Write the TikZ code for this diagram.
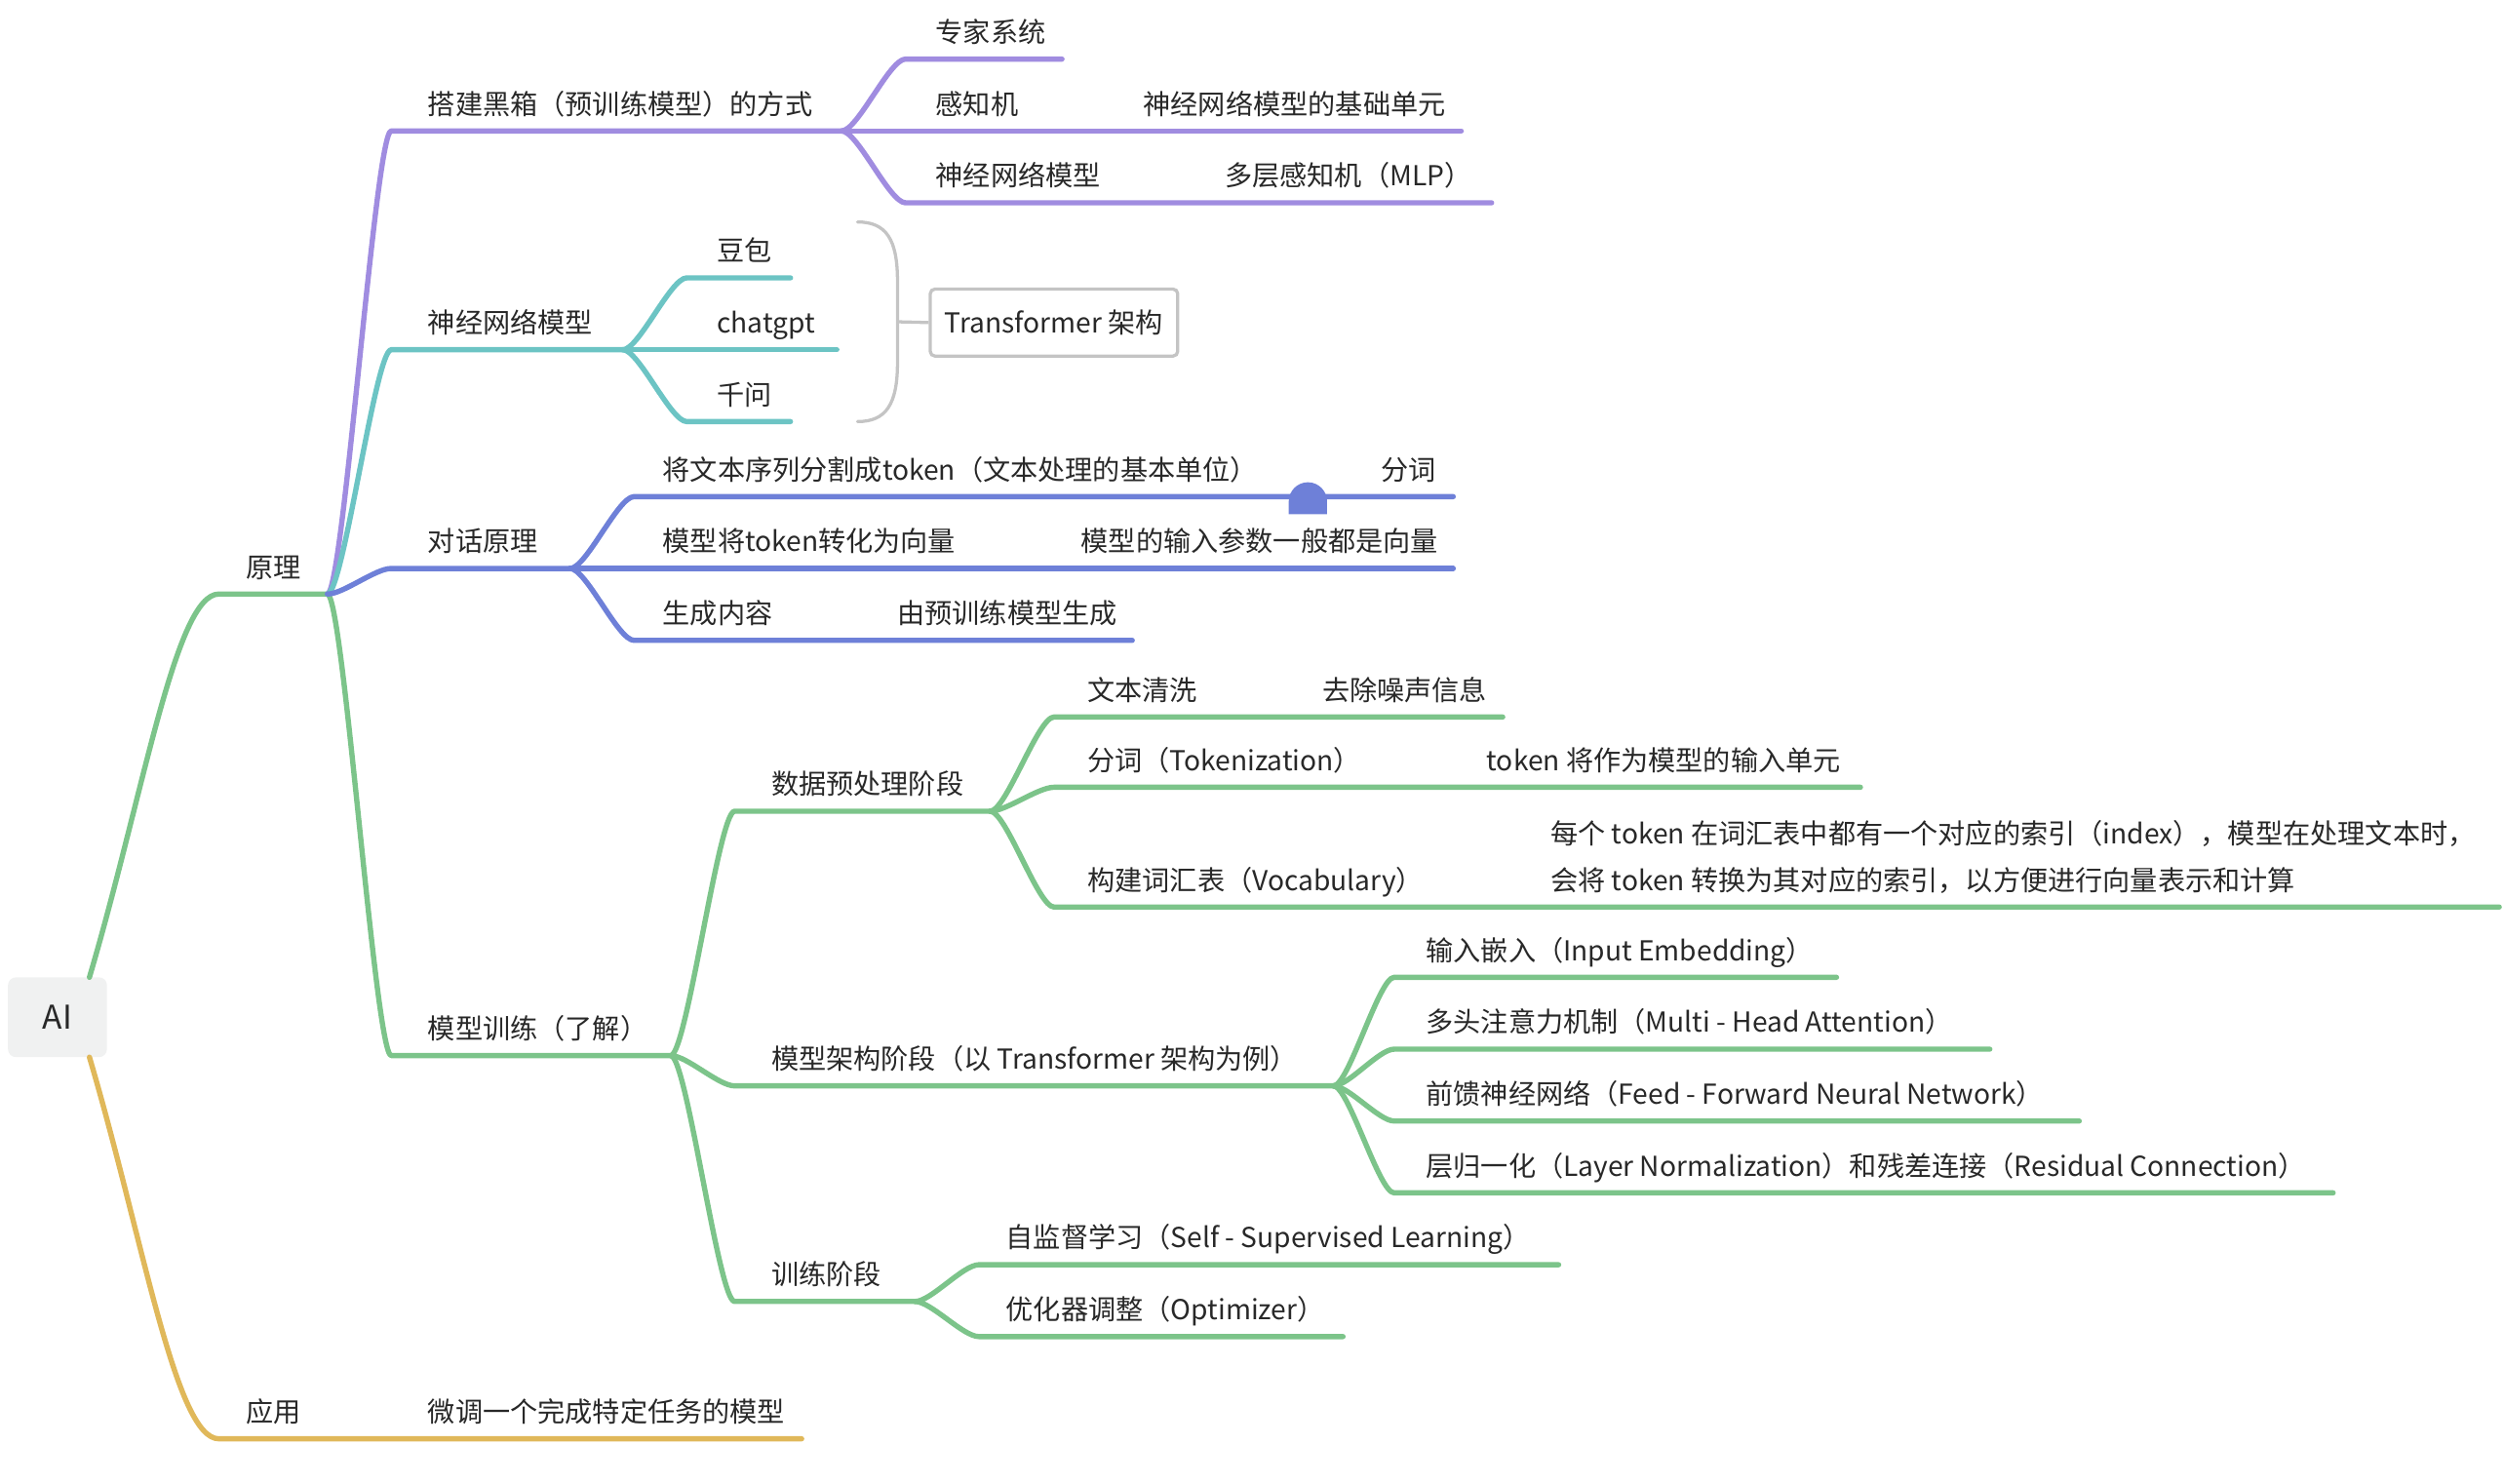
\documentclass[tikz,border=0pt]{standalone}
\usepackage{fontspec}
\setmainfont{Noto Sans CJK SC}
\usetikzlibrary{calc}
\definecolor{cpur}{RGB}{160,140,224}
\definecolor{ctea}{RGB}{108,196,196}
\definecolor{cblu}{RGB}{110,128,216}
\definecolor{cgrn}{RGB}{124,196,138}
\definecolor{cyel}{RGB}{224,184,90}
\definecolor{cgry}{RGB}{196,196,196}
\definecolor{ctxt}{RGB}{40,40,40}
\definecolor{cbox}{RGB}{240,241,241}
\newcommand\mmfs{\fontsize{17.2}{21}\selectfont}
\begin{document}
\begin{tikzpicture}[x=1pt,y=-1pt,
  lbl/.style={anchor=base west, inner sep=0pt, outer sep=0pt, text=ctxt, font=\mmfs},
  br/.style={line width=3.3pt, line cap=round, line join=round},
  bc/.style={to path={let \p1=(\tikztostart), \p2=(\tikztotarget) in
     .. controls ({\x1+0.25*(\x2-\x1)},\y1) and ({\x2-0.25*(\x2-\x1)},\y2) .. (\tikztotarget)}},
  rootbox/.style={fill=cbox, rounded corners=5pt, minimum width=62pt, minimum height=50pt,
     inner sep=0pt, text=ctxt, font=\fontsize{20.5}{24}\selectfont},
  tfbox/.style={draw=cgry, line width=2pt, rounded corners=3pt, minimum width=155pt,
     minimum height=42pt, inner sep=0pt, text=ctxt, font=\mmfs}]
\useasboundingbox (0,0) rectangle (1568,929.3);

% ---------- root ----------
\node[rootbox] (AI) at (36,637) {AI};
\coordinate (rT) at (56,612);
\coordinate (rB) at (56,662);
\coordinate (yl0) at (137,372);
\coordinate (b0) at (205,372);
\coordinate (ya0) at (137,901);
\coordinate (ya1) at (502,901);
\draw[br,cgrn] (rT) .. controls (90,497) and (110,372) .. (yl0) -- (b0);
\draw[br,cyel] (rB) .. controls (90,777) and (110,901) .. (ya0) -- (ya1);
\node[lbl] (tYL) at (154,361.5) {原理};
\node[lbl] (tYY) at (154,890.5) {应用};
\node[lbl] (tWT) at (268,890.5) {微调一个完成特定任务的模型};

% ---------- level 1 coordinates ----------
\coordinate (s1) at (245,82);  \coordinate (b1) at (527,82);
\coordinate (s2) at (245,219); \coordinate (b2) at (390,219);
\coordinate (s3) at (245,356); \coordinate (b3) at (357,356);
\coordinate (s4) at (245,661); \coordinate (b4) at (420,661);

% ---------- purple: 搭建黑箱 ----------
\draw[br,cpur] (b0) to[bc] (s1) -- (b1);
\coordinate (s11) at (567,37);  \coordinate (e11) at (665,37);
\coordinate (e12) at (915,82);
\coordinate (s13) at (567,127); \coordinate (e13) at (934,127);
\draw[br,cpur] (b1) to[bc] (s11) -- (e11);
\draw[br,cpur] (b1) -- (e12);
\draw[br,cpur] (b1) to[bc] (s13) -- (e13);
\node[lbl] (t1) at (268,71.5) {搭建黑箱（预训练模型）的方式};
\node[lbl] (t11) at (586,26.5) {专家系统};
\node[lbl] (t12) at (586,71.5) {感知机};
\node[lbl] (t121) at (716,71.5) {神经网络模型的基础单元};
\node[lbl] (t13) at (586,116.5) {神经网络模型};
\node[lbl] (t131) at (767,116.5) {多层感知机（MLP）};

% ---------- teal: 神经网络模型 ----------
\draw[br,ctea] (b0) to[bc] (s2) -- (b2);
\coordinate (s21) at (430,174); \coordinate (e21) at (495,174);
\coordinate (e22) at (524,219);
\coordinate (s23) at (430,264); \coordinate (e23) at (495,264);
\draw[br,ctea] (b2) to[bc] (s21) -- (e21);
\draw[br,ctea] (b2) -- (e22);
\draw[br,ctea] (b2) to[bc] (s23) -- (e23);
\node[lbl] (t2) at (268,208.5) {神经网络模型};
\node[lbl] (t21) at (449,163.5) {豆包};
\node[lbl] (t22) at (449,208.5) {chatgpt};
\node[lbl] (t23) at (449,253.5) {千问};
% bracket + summary box
\coordinate (bt) at (537,139);
\coordinate (bb) at (537,264);
\coordinate (bm) at (562,201.5);
\node[tfbox] (TF) at (660,202) {Transformer 架构};
\draw[cgry, line width=2pt, line cap=round] (bt) .. controls (555,139) and (562,150) .. (562,176)
   -- (562,227) .. controls (562,253) and (555,264) .. (bb);
\draw[cgry, line width=2pt] (bm) -- (TF.west);

% ---------- green: 模型训练 ----------
\draw[br,cgrn] (b0) to[bc] (s4) -- (b4);
\coordinate (s41) at (460,508); \coordinate (b5) at (620,508);
\coordinate (s42) at (460,680); \coordinate (b6) at (835,680);
\coordinate (s43) at (460,815); \coordinate (b7) at (573,815);
\draw[br,cgrn] (b4) to[bc] (s41) -- (b5);
\draw[br,cgrn] (b4) to[bc] (s42) -- (b6);
\draw[br,cgrn] (b4) to[bc] (s43) -- (b7);
\node[lbl] (t4) at (268,650.5) {模型训练（了解）};
\node[lbl] (t41) at (483,497.5) {数据预处理阶段};
\node[lbl] (t42) at (483,669.5) {模型架构阶段（以 Transformer 架构为例）};
\node[lbl] (t43) at (483,804.5) {训练阶段};

% 数据预处理阶段
\coordinate (s51) at (660,449); \coordinate (e51) at (941,449);
\coordinate (s52) at (660,493); \coordinate (e52) at (1165,493);
\coordinate (s53) at (660,568); \coordinate (e53) at (1565,568);
\draw[br,cgrn] (b5) to[bc] (s51) -- (e51);
\draw[br,cgrn] (b5) to[bc] (s52) -- (e52);
\draw[br,cgrn] (b5) to[bc] (s53) -- (e53);
\node[lbl] (t51) at (681,438.5) {文本清洗};
\node[lbl] (t511) at (828,438.5) {去除噪声信息};
\node[lbl] (t52) at (681,482.5) {分词（Tokenization）};
\node[lbl] (t521) at (931,482.5) {token 将作为模型的输入单元};
\node[lbl] (t53) at (681,557.5) {构建词汇表（Vocabulary）};
\node[lbl] (t531) at (971,528.5) {每个 token 在词汇表中都有一个对应的索引（index），模型在处理文本时，};
\node[lbl] (t532) at (971,557.5) {会将 token 转换为其对应的索引，以方便进行向量表示和计算};

% 模型架构阶段
\coordinate (s61) at (873,612); \coordinate (e61) at (1150,612);
\coordinate (s62) at (873,657); \coordinate (e62) at (1246,657);
\coordinate (s63) at (873,702); \coordinate (e63) at (1302,702);
\coordinate (s64) at (873,747); \coordinate (e64) at (1461,747);
\draw[br,cgrn] (b6) to[bc] (s61) -- (e61);
\draw[br,cgrn] (b6) to[bc] (s62) -- (e62);
\draw[br,cgrn] (b6) to[bc] (s63) -- (e63);
\draw[br,cgrn] (b6) to[bc] (s64) -- (e64);
\node[lbl] (t61) at (893,601.5) {输入嵌入（Input Embedding）};
\node[lbl] (t62) at (893,646.5) {多头注意力机制（Multi - Head Attention）};
\node[lbl] (t63) at (893,691.5) {前馈神经网络（Feed - Forward Neural Network）};
\node[lbl] (t64) at (893,736.5) {层归一化（Layer Normalization）和残差连接（Residual Connection）};

% 训练阶段
\coordinate (s71) at (613,792); \coordinate (e71) at (976,792);
\coordinate (s72) at (613,837); \coordinate (e72) at (841,837);
\draw[br,cgrn] (b7) to[bc] (s71) -- (e71);
\draw[br,cgrn] (b7) to[bc] (s72) -- (e72);
\node[lbl] (t71) at (630,781.5) {自监督学习（Self - Supervised Learning）};
\node[lbl] (t72) at (630,826.5) {优化器调整（Optimizer）};

% ---------- blue: 对话原理 ----------
\draw[br,cblu] (b0) to[bc] (s3) -- (b3);
\coordinate (s31) at (397,311); \coordinate (e31) at (910,311);
\coordinate (e32) at (910,356);
\coordinate (s33) at (397,401); \coordinate (e33) at (709,401);
\draw[br,cblu] (b3) to[bc] (s31) -- (e31);
\draw[br,cblu] (b3) -- (e32);
\draw[br,cblu] (b3) to[bc] (s33) -- (e33);
\fill[cblu] (807,322) -- (807,314) .. controls (807,307.4) and (812.4,302) .. (819,302)
   .. controls (825.6,302) and (831,307.4) .. (831,314) -- (831,322) -- cycle;
\node[lbl] (t3) at (268,345.5) {对话原理};
\node[lbl] (t31) at (415,300.5) {将文本序列分割成token（文本处理的基本单位）};
\node[lbl] (t311) at (865,300.5) {分词};
\node[lbl] (t32) at (415,345.5) {模型将token转化为向量};
\node[lbl] (t321) at (677,345.5) {模型的输入参数一般都是向量};
\node[lbl] (t33) at (415,390.5) {生成内容};
\node[lbl] (t331) at (562,390.5) {由预训练模型生成};
\end{tikzpicture}
\end{document}
